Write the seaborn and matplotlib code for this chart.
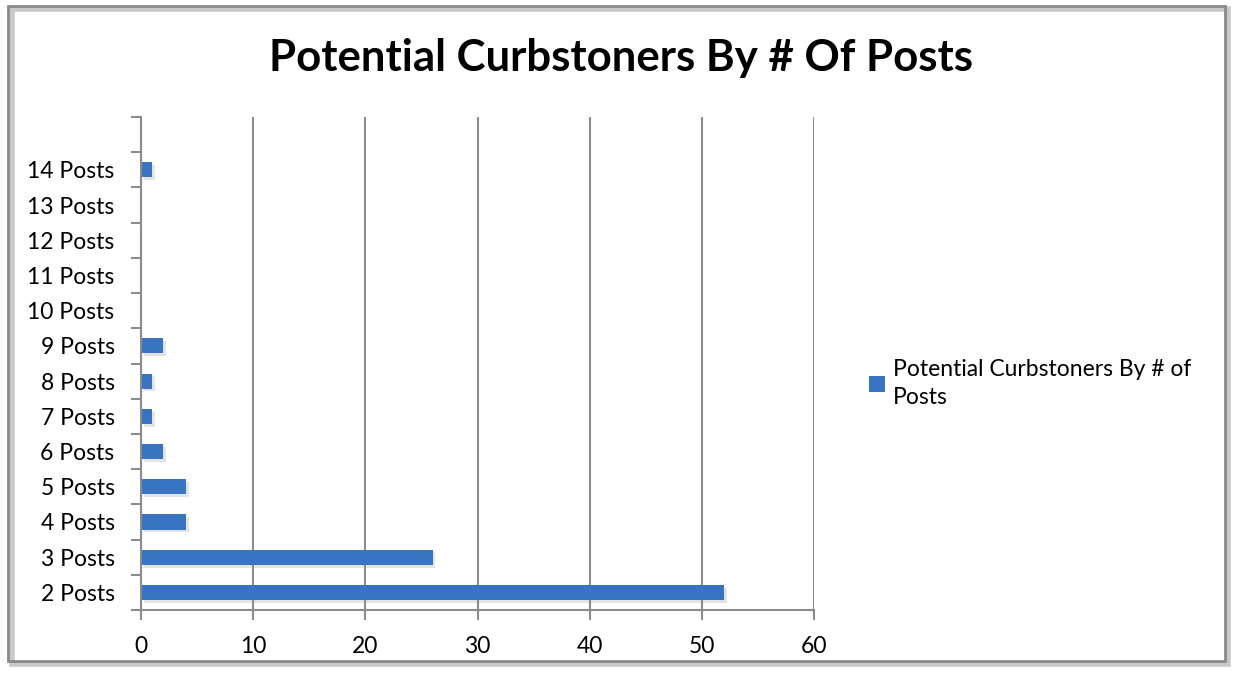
import numpy as np
import pandas as pd
import matplotlib
matplotlib.use("Agg")
import matplotlib.pyplot as plt
import matplotlib.patheffects as pe
from matplotlib.patches import Rectangle
import seaborn as sns

# data
posts = ["2 Posts", "3 Posts", "4 Posts", "5 Posts", "6 Posts", "7 Posts", "8 Posts",
         "9 Posts", "10 Posts", "11 Posts", "12 Posts", "13 Posts", "14 Posts"]
counts = [52, 26, 4, 4, 2, 1, 1, 2, 0, 0, 0, 0, 1]
series_name = "Potential Curbstoners By # of Posts"

data = pd.DataFrame({"Posts": posts, "Count": counts})

sns.set_style("white")
plt.rcParams["font.family"] = ["Lato", "DejaVu Sans"]
plt.rcParams["text.color"] = "black"
plt.rcParams["xtick.color"] = "black"
plt.rcParams["ytick.color"] = "black"

fig = plt.figure(figsize=(12.33, 6.73), dpi=100)
ax = fig.add_axes([141 / 1233, 63 / 673, 673 / 1233, 493 / 673])

bar_color = "#3874c2"
order = posts[::-1]
sns.barplot(ax=ax, data=data, x="Count", y="Posts", order=order, color=bar_color,
            width=0.43, saturation=1, label=series_name)

# bars get a soft drop shadow like the original
for p in ax.patches:
    p.set_edgecolor("none")
    p.set_path_effects([pe.withSimplePatchShadow(offset=(2, -2), shadow_rgbFace="#909090", alpha=0.25),
                        pe.Normal()])

n = len(posts)
ax.set_xlim(0, 60)
ax.set_ylim(n - 0.5, -1.5)
ax.set_xticks(np.arange(0, 61, 10))
ax.set_xticklabels([str(v) for v in range(0, 61, 10)], fontsize=16.5)

# category boundary ticks (Excel style) and labels in the middle
ax.set_yticks(np.arange(-1.5, n, 1))
ax.set_yticklabels([])
ax.set_yticks(np.arange(n), minor=True)
ax.set_yticklabels(order, minor=True, fontsize=16.5)
ax.tick_params(axis="y", which="major", length=7, width=1.5, color="#8c8c8c", left=True)
ax.tick_params(axis="y", which="minor", length=0, pad=19)
ax.tick_params(axis="x", length=7, width=1.5, color="#8c8c8c", bottom=True, pad=12)

ax.xaxis.grid(True, color="#8c8c8c", linewidth=1.5)
ax.set_axisbelow(True)
ax.set_xlabel("")
ax.set_ylabel("")
for s in ["top", "right"]:
    ax.spines[s].set_visible(False)
for s in ["left", "bottom"]:
    ax.spines[s].set_color("#8c8c8c")
    ax.spines[s].set_linewidth(1.5)

fig.suptitle("Potential Curbstoners By # Of Posts", x=621 / 1233, y=1 - 58 / 673,
             va="center", fontsize=31.5, fontweight="bold", color="black")

leg_handle = Rectangle((0, 0), 1, 1, facecolor=bar_color, edgecolor="none")
ax.legend([leg_handle], ["Potential Curbstoners By # of\nPosts"], loc="upper left",
          bbox_to_anchor=(860 / 1233, 1 - 350 / 673), bbox_transform=fig.transFigure,
          frameon=False, fontsize=16.5, handlelength=0.7, handleheight=0.7,
          handletextpad=0.35, borderaxespad=0, labelspacing=0.3)
for t in ax.get_legend().get_texts():
    t.set_linespacing(1.4)

# chart border with a light shadow
fig.patches.append(Rectangle((12 / 1233, 9 / 673), 1216 / 1233, 655 / 673,
                             transform=fig.transFigure, fill=False,
                             edgecolor="#c8c8c8", linewidth=4, zorder=0))
fig.patches.append(Rectangle((8 / 1233, 12 / 673), 1217 / 1233, 655 / 673,
                             transform=fig.transFigure, fill=False,
                             edgecolor="#8a8a8a", linewidth=2, zorder=1))

fig.savefig("out.png", dpi=100)
